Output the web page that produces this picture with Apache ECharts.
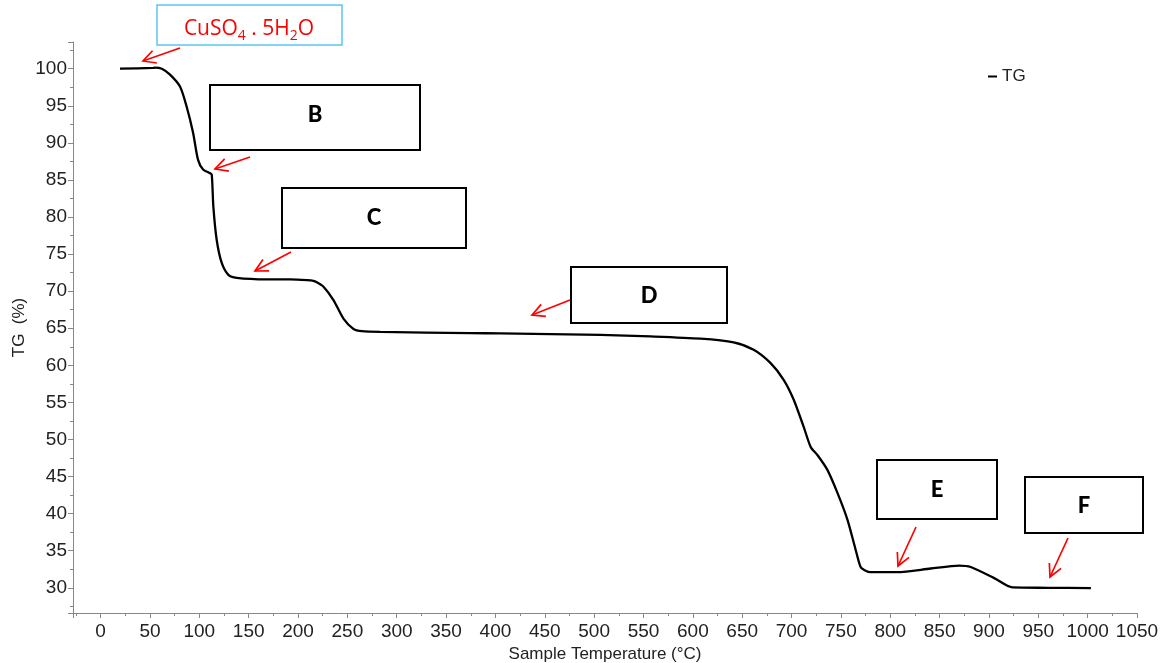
<!DOCTYPE html>
<html>
<head>
<meta charset="utf-8">
<script src="https://cdn.jsdelivr.net/npm/echarts@6/dist/echarts.min.js"></script>
<style>
  html, body { margin: 0; padding: 0; background: #fff; }
  #ec { width: 1161px; height: 663px; }
</style>
</head>
<body>
<div id="ec"></div>
<script>
// sample temperature (°C) and mass (%)
var temps = [19.6, 53, 55.1, 62, 70.3, 80.4, 87.1, 93.6, 98.7, 103.8, 110.9, 112.6, 114.2, 117.6, 122.7, 129.4, 137.9,
  168.4, 192, 209, 215.6, 219, 225.8, 235.9, 246, 256.2, 264.7, 283.3, 374.6, 405, 506.4, 557.1, 607.8, 641.3,
  661.6, 678.8, 692, 702.1, 712.3, 719.4, 726.2, 736.3, 746.5, 756.6, 765, 770, 775, 780, 807.3, 841, 869.8,
  881.6, 905.3, 923.9, 960, 1003.3];
var tg = [100, 100.1, 100.15, 100.0, 99.2, 97.6, 94.9, 91.4, 87.7, 86.4, 85.9, 85.7, 81.4, 76.9, 73.8, 72.2, 71.8,
  71.6, 71.6, 71.5, 71.4, 71.2, 70.6, 68.8, 66.3, 64.9, 64.6, 64.5, 64.35, 64.3, 64.1, 63.9, 63.6, 63.1,
  62.1, 60.3, 58.05, 55.4, 51.7, 49.0, 47.9, 45.9, 42.8, 39.2, 35.1, 32.8, 32.3, 32.1, 32.1, 32.6, 33.0,
  32.8, 31.3, 30.05, 30.0, 29.95];

var seriesName = "TG";
var xName = "Sample Temperature (°C)";
var yName = "TG  (%)";

// annotation boxes: [left, top, width, height, label, text shift]
var boxes = [
  [210, 85, 210, 65, "B", -3],
  [282, 188, 184, 60, "C", 0],
  [571, 267, 156, 56, "D", 1],
  [877, 460, 120, 59, "E", 0],
  [1025, 477, 118, 56, "F", 1],
];
// red arrows: [fromX, fromY, toX, toY]
var arrows = [
  [180, 48, 143, 61],
  [250, 157, 215, 169],
  [291, 252, 255, 271],
  [570, 300, 532, 315],
  [916, 527, 898, 566],
  [1068, 538, 1050, 577],
];

function arrow(a) {
  var ang = Math.atan2(a[3] - a[1], a[2] - a[0]);
  var len = 14, spread = 0.48;
  var p1 = [a[2] - len * Math.cos(ang - spread), a[3] - len * Math.sin(ang - spread)];
  var p2 = [a[2] - len * Math.cos(ang + spread), a[3] - len * Math.sin(ang + spread)];
  var st = { stroke: "#ff0000", lineWidth: 1.7, fill: null };
  return {
    type: "group",
    children: [
      { type: "line", shape: { x1: a[0], y1: a[1], x2: a[2], y2: a[3] }, style: st },
      { type: "polyline", shape: { points: [p1, [a[2], a[3]], p2] }, style: st },
    ],
  };
}

var graphics = [];
boxes.forEach(function (b) {
  graphics.push({
    type: "rect",
    shape: { x: b[0], y: b[1], width: b[2], height: b[3] },
    style: { fill: "#fff", stroke: "#000", lineWidth: 2 },
    z: 10,
  });
  graphics.push({
    type: "text",
    x: b[0] + b[2] / 2,
    y: b[1] + b[3] / 2 + b[5],
    style: { text: b[4], font: "900 22px Lato", fill: "#000", align: "center", verticalAlign: "middle" },
    z: 11,
  });
});
graphics.push({
  type: "rect",
  shape: { x: 157, y: 5, width: 185, height: 40 },
  style: { fill: "#fff", stroke: "#5bc5ef", lineWidth: 1.5 },
  z: 10,
});
graphics.push({
  type: "text",
  x: 249,
  y: 29,
  style: {
    text: "{a|CuSO}{s|4}{a| . 5H}{s|2}{a|O}",
    align: "center",
    verticalAlign: "middle",
    rich: {
      a: { fontSize: 21, fontFamily: "Open Sans", fill: "#ff0000", lineHeight: 28 },
      s: { fontSize: 14, fontFamily: "Open Sans", fill: "#ff0000", lineHeight: 15, verticalAlign: "bottom" },
    },
  },
  z: 11,
});
arrows.forEach(function (a) {
  var g = arrow(a);
  g.z = 12;
  graphics.push(g);
});

var myChart = echarts.init(document.getElementById("ec"));
myChart.setOption({
  animation: false,
  textStyle: { fontFamily: "Liberation Sans" },
  grid: { left: 73, right: 24, top: 42, bottom: 50, outerBoundsMode: "none" },
  legend: {
    data: [seriesName],
    left: 983,
    top: 63,
    icon: "rect",
    itemWidth: 9,
    itemHeight: 2,
    itemStyle: { color: "#000" },
    textStyle: { fontSize: 17, color: "#222" },
  },
  xAxis: {
    type: "value",
    min: -28,
    max: 1050,
    splitNumber: 21,
    name: xName,
    nameLocation: "middle",
    nameGap: 30,
    nameTextStyle: { fontSize: 17, color: "#222" },
    splitLine: { show: false },
    axisLine: { onZero: false, lineStyle: { color: "#888", width: 1 } },
    axisTick: { length: 5, lineStyle: { color: "#888" } },
    minorTick: { show: true, splitNumber: 2, length: 3, lineStyle: { color: "#888" } },
    axisLabel: {
      fontSize: 19,
      color: "#222",
      margin: 9,
      showMinLabel: false,
      formatter: function (v) { return v % 50 === 0 ? String(v) : ""; },
    },
  },
  yAxis: {
    type: "value",
    min: 26.6,
    max: 103.6,
    splitNumber: 15,
    name: yName,
    nameLocation: "middle",
    nameGap: 45,
    nameMoveOverlap: false,
    nameTextStyle: { fontSize: 17, color: "#222" },
    splitLine: { show: false },
    axisLine: { show: true, onZero: false, lineStyle: { color: "#888", width: 1 } },
    axisTick: { show: true, length: 5, lineStyle: { color: "#888" } },
    minorTick: { show: true, splitNumber: 2, length: 3, lineStyle: { color: "#888" } },
    axisLabel: {
      fontSize: 19,
      color: "#222",
      margin: 6,
      showMinLabel: false,
      showMaxLabel: false,
      formatter: function (v) { return v % 5 === 0 ? String(v) : ""; },
    },
  },
  series: [
    {
      name: seriesName,
      type: "line",
      data: temps.map(function (t, i) { return [t, tg[i]]; }),
      showSymbol: false,
      smooth: 0.25,
      lineStyle: { color: "#000", width: 2.3 },
      itemStyle: { color: "#000" },
    },
  ],
  graphic: graphics,
});
</script>
</body>
</html>
